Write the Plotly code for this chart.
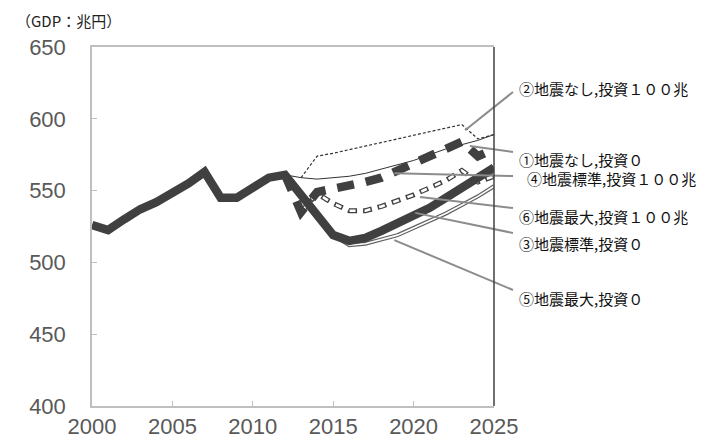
import plotly.graph_objects as go

# ---------------- data ----------------
years_hist = list(range(2000, 2013))
gdp_hist = [526, 522.5, 530, 537, 542, 548, 555, 563, 545, 545, 552, 559, 561]

years_fut = list(range(2012, 2026))
s1_nq_0 = [561, 559, 558, 559, 560, 562, 565, 568, 571, 575, 579, 582, 585, 589]      # ① 地震なし,投資0
s2_nq_100 = [None, 559, 574, 576, 578.5, 581, 583, 586, 588, 591, 593.5, 596, 586, 589]  # ② 地震なし,投資100兆
s3_std_0 = [561, 547, 533, 519, 515, 517, 522, 527, 532, 538, 545, 552, 559, 566]     # ③ 地震標準,投資0
s4_std_100 = [561, 535, 549, 551, 553, 556, 559, 564, 569, 574, 578, 584, 574, 579]   # ④ 地震標準,投資100兆
s5_max_0 = [None, None, None, 519, 512, 513, 516, 519, 524, 529, 534, 540, 546, 553]  # ⑤ 地震最大,投資0
s6_max_100 = [None, 535, 548, 541, 536, 536, 539, 543, 547, 552, 557, 564, 556, 560]  # ⑥ 地震最大,投資100兆

labels = ["②地震なし,投資１００兆", "①地震なし,投資０", "④地震標準,投資１００兆",
          "⑥地震最大,投資１００兆", "③地震標準,投資０", "⑤地震最大,投資０"]
# leader line start points (year, value)
leader_start = [(2023.2, 592), (2023.5, 581), (2018.8, 562), (2020.4, 545.5), (2020.1, 534.5), (2018.8, 515.5)]

x_ticks = [2000, 2005, 2010, 2015, 2020, 2025]
y_ticks = [400, 450, 500, 550, 600, 650]

XR = (2000, 2025)
YR = (400, 650)

DARK = "#404040"
GRAY = "#8c8c8c"

fig = go.Figure()

# ⑤ outlined solid line
fig.add_trace(go.Scatter(x=years_fut, y=s5_max_0, mode="lines",
                         line=dict(color="#606060", width=4), hoverinfo="skip"))
fig.add_trace(go.Scatter(x=years_fut, y=s5_max_0, mode="lines",
                         line=dict(color="white", width=1.6), hoverinfo="skip"))
# ⑥ outlined dashed line (capsule-like dashes)
fig.add_trace(go.Scatter(x=years_fut, y=s6_max_100, mode="lines",
                         line=dict(color="#404040", width=5, dash="9px,6px"), hoverinfo="skip"))
fig.add_trace(go.Scatter(x=years_fut, y=s6_max_100, mode="lines",
                         line=dict(color="white", width=2.6, dash="0px,1.5px,6px,7.5px"), hoverinfo="skip"))
# ① thin solid
fig.add_trace(go.Scatter(x=years_fut, y=s1_nq_0, mode="lines",
                         line=dict(color="#333333", width=1), hoverinfo="skip"))
# ② thin dashed
fig.add_trace(go.Scatter(x=years_fut, y=s2_nq_100, mode="lines",
                         line=dict(color="#333333", width=1.2, dash="3px,2px"), hoverinfo="skip"))
# main historical + ③
fig.add_trace(go.Scatter(x=years_hist + years_fut[1:], y=gdp_hist + s3_std_0[1:], mode="lines",
                         line=dict(color=DARK, width=8.5), hoverinfo="skip"))
# ④ thick dashed
fig.add_trace(go.Scatter(x=years_fut, y=s4_std_100, mode="lines",
                         line=dict(color=DARK, width=8.5, dash="17px,12px"), hoverinfo="skip"))

# label geometry in pixels (plot area 92..494 x 47..406)
L, R, T, B = 92, 494, 47, 406
def px2paper(px, py):
    return (px - L) / (R - L), (B - py) / (B - T)

label_end_px = [(513, 92), (513, 152), (513, 176), (513, 208), (513, 233), (513, 290)]
label_txt_px = [(517, 88), (517, 159), (525, 178), (517, 217), (517, 243), (517, 298)]

shapes = []
for (yr, val), (ex, ey) in zip(leader_start, label_end_px):
    sx = (yr - XR[0]) / (XR[1] - XR[0])
    sy = (val - YR[0]) / (YR[1] - YR[0])
    px, py = px2paper(ex, ey)
    shapes.append(dict(type="line", xref="paper", yref="paper", x0=sx, y0=sy, x1=px, y1=py,
                       line=dict(color=GRAY, width=2), layer="above"))
# right border (dark)
shapes.append(dict(type="line", xref="paper", yref="paper", x0=1, x1=1, y0=0, y1=1,
                   line=dict(color=DARK, width=1.5)))

annotations = []
for txt, (tx, ty) in zip(labels, label_txt_px):
    ax_, ay_ = px2paper(tx, ty)
    annotations.append(dict(text=txt, x=ax_, y=ay_, xref="paper", yref="paper",
                            xanchor="left", yanchor="middle", showarrow=False,
                            font=dict(family="Noto Sans CJK JP", size=15, color="#111111")))
tx, ty = px2paper(14, 20)
annotations.append(dict(text="（GDP：兆円）", x=tx, y=ty, xref="paper", yref="paper",
                        xanchor="left", yanchor="middle", showarrow=False,
                        font=dict(family="Noto Sans CJK JP", size=15, color="#222222")))

fig.update_layout(
    width=717, height=442,
    margin=dict(l=L, r=717 - R, t=T, b=442 - B, autoexpand=False),
    paper_bgcolor="white", plot_bgcolor="white",
    showlegend=False,
    shapes=shapes, annotations=annotations,
    xaxis=dict(range=list(XR), tickvals=x_ticks, showgrid=False, zeroline=False,
               showline=True, linecolor="#bfbfbf", linewidth=1.5, mirror=True,
               ticks="inside", ticklen=5, tickcolor="#bfbfbf", automargin=False,
               tickfont=dict(family="Liberation Sans", size=22, color="#595959"),
               ticklabelstandoff=0),
    yaxis=dict(range=list(YR), tickvals=y_ticks, showgrid=False, zeroline=False,
               showline=True, linecolor="#bfbfbf", linewidth=1.5, automargin=False,
               ticks="inside", ticklen=5, tickcolor="#bfbfbf",
               tickfont=dict(family="Liberation Sans", size=22, color="#595959"),
               ticklabelstandoff=20),
)

fig.write_html("out.html")
